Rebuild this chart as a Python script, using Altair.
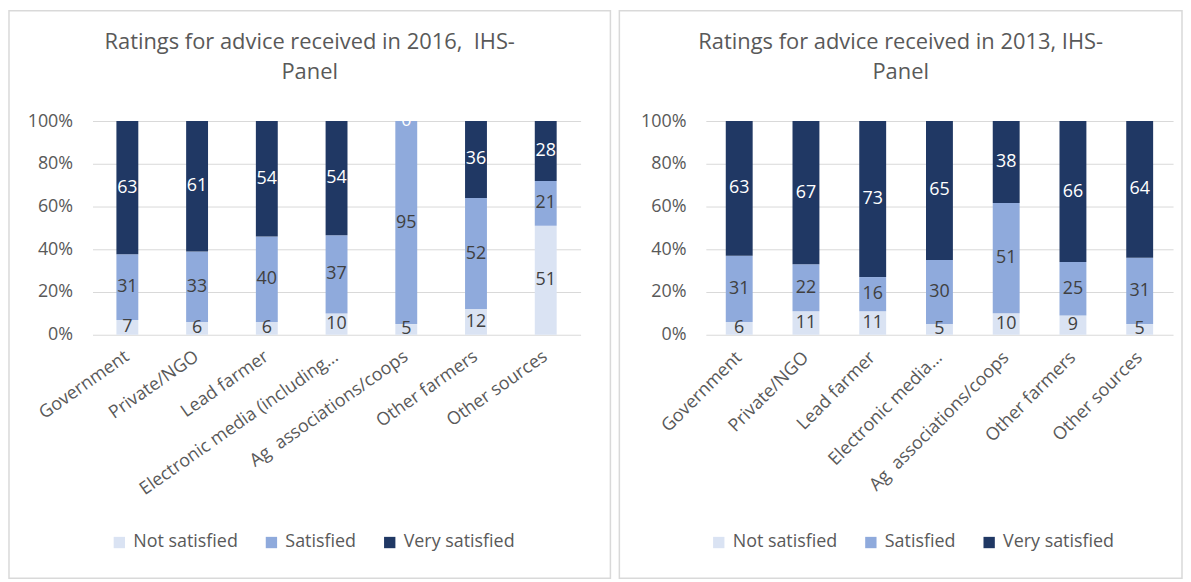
import altair as alt
import pandas as pd

FONT = "Open Sans"
GREY = "#595959"

ratings = ["Not satisfied", "Satisfied", "Very satisfied"]
rating_colors = ["#DAE3F3", "#8FAADC", "#203864"]

# 2016 panel
cats_2016 = ["Government", "Private/NGO", "Lead farmer", "Electronic media (including…",
             "Ag\u00a0 associations/coops", "Other farmers", "Other sources"]
not_2016 = [7, 6, 6, 10, 5, 12, 51]
sat_2016 = [31, 33, 40, 37, 95, 52, 21]
very_2016 = [63, 61, 54, 54, 0, 36, 28]
title_2016 = ["Ratings for advice received in 2016,\u00a0 IHS-", "Panel"]

# 2013 panel
cats_2013 = ["Government", "Private/NGO", "Lead farmer", "Electronic media…",
             "Ag\u00a0 associations/coops", "Other farmers", "Other sources"]
not_2013 = [6, 11, 11, 5, 10, 9, 5]
sat_2013 = [31, 22, 16, 30, 51, 25, 31]
very_2013 = [63, 67, 73, 65, 38, 66, 64]
title_2013 = ["Ratings for advice received in 2013, IHS-", "Panel"]

y_ticks = [0, 0.2, 0.4, 0.6, 0.8, 1.0]


def make_df(cats, ns, s, vs):
    rows = []
    for i, c in enumerate(cats):
        for j, (r, v) in enumerate(zip(ratings, [ns[i], s[i], vs[i]])):
            rows.append({"cat": c, "rating": r, "order": j, "value": v})
    return pd.DataFrame(rows)


def panel(df, cats, title, width, pad, angle, border, legend_xy, label_pad):
    one = pd.DataFrame({"k": [0]})
    frame = alt.Chart(one).mark_rect(
        filled=False, stroke="#D9D9D9", strokeWidth=1.5
    ).encode(
        x=alt.value(border[0]), x2=alt.value(border[1]),
        y=alt.value(border[2]), y2=alt.value(border[3]),
    )
    head = alt.Chart(one).mark_text(
        text=title, fontSize=22, font=FONT, color=GREY, align="center",
        baseline="top", lineHeight=30,
    ).encode(
        x=alt.value((border[0] + border[1]) / 2), y=alt.value(-89),
    )
    base = alt.Chart(df).transform_stack(
        stack="value", groupby=["cat"], as_=["v0", "v1"], offset="normalize",
        sort=[alt.SortField("order", "ascending")],
    ).transform_calculate(mid="(datum.v0 + datum.v1) / 2")

    xenc = alt.X(
        "cat:N", sort=cats,
        scale=alt.Scale(paddingInner=pad, paddingOuter=pad / 2),
        axis=alt.Axis(title=None, labelAngle=angle, labelAlign="right",
                      labelBaseline="middle", labelPadding=label_pad,
                      ticks=False, domain=False, grid=False,
                      labelFontSize=18, labelColor=GREY, labelLimit=400,
                      labelFont=FONT),
    )
    bars = base.mark_bar().encode(
        x=xenc,
        y=alt.Y("v0:Q", scale=alt.Scale(domain=[0, 1]),
                axis=alt.Axis(format="%", values=y_ticks, title=None,
                              ticks=False, tickSize=0, domain=False,
                              labelPadding=20, labelFontSize=18,
                              labelColor=GREY, labelFont=FONT,
                              gridColor="#D9D9D9", gridWidth=1)),
        y2="v1:Q",
        color=alt.Color("rating:N", sort=ratings,
                        scale=alt.Scale(domain=ratings, range=rating_colors),
                        legend=alt.Legend(orient="none", legendX=legend_xy[0],
                                          legendY=legend_xy[1],
                                          direction="horizontal", title=None,
                                          symbolType="square", symbolSize=130,
                                          symbolStrokeWidth=0, labelFontSize=18,
                                          labelColor=GREY, labelFont=FONT,
                                          columnPadding=24, labelOffset=5,
                                          padding=0)),
    )
    text = base.mark_text(fontSize=18, font=FONT).encode(
        x=alt.X("cat:N", sort=cats),
        y="mid:Q",
        text="value:Q",
        color=alt.condition(alt.datum.rating == "Very satisfied",
                            alt.value("#FFFFFF"), alt.value("#404040")),
    )
    return alt.layer(frame, head, bars, text).properties(width=width, height=215)


left = panel(make_df(cats_2016, not_2016, sat_2016, very_2016), cats_2016,
             title_2016, 491, 0.686, -35, [-84, 521, -111, 460], [18, 415], 20)
right = panel(make_df(cats_2013, not_2013, sat_2013, very_2013), cats_2013,
              title_2013, 470, 0.597, -45, [-87, 479, -111, 460], [4, 415], 20)

chart = alt.hconcat(left, right, spacing=7).resolve_scale(
    color="independent", x="independent"
).resolve_legend(color="independent").properties(
    padding=0, background="#FFFFFF"
).configure_view(stroke=None).configure_text(font=FONT)

chart.save("out.html", embed_options={"renderer": "svg", "actions": False})
